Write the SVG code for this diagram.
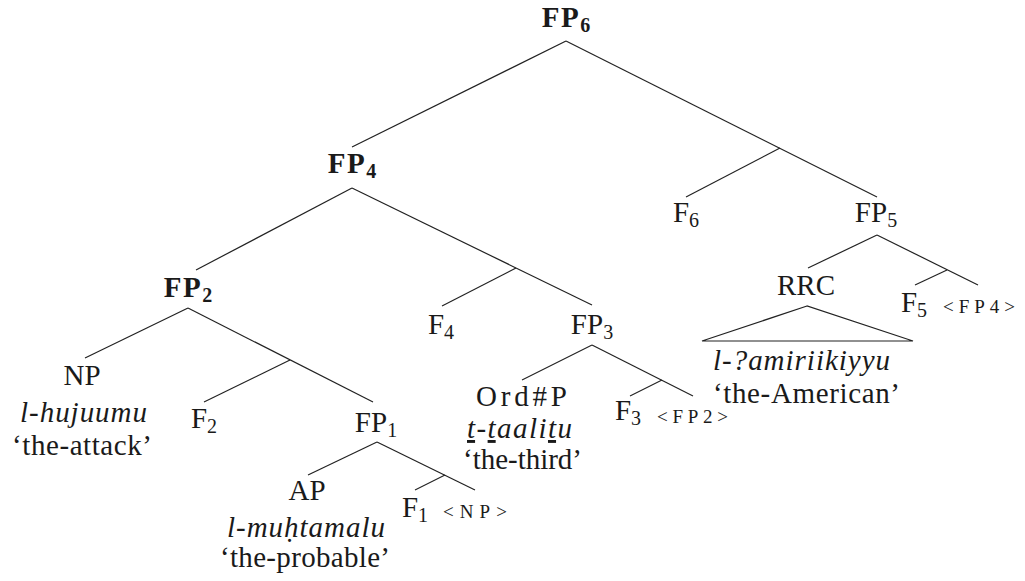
<svg xmlns="http://www.w3.org/2000/svg" width="1025" height="581" viewBox="0 0 1025 581">
<rect width="1025" height="581" fill="#fff"/>
<g id="connectors" stroke="#222" stroke-width="1.2" fill="none">
<line x1="566" y1="41" x2="352" y2="147"/>
<line x1="566" y1="41" x2="877" y2="197"/>
<line x1="780" y1="148" x2="686" y2="197"/>
<line x1="877" y1="235" x2="808" y2="268"/>
<line x1="877" y1="235" x2="978" y2="285"/>
<line x1="947" y1="270" x2="915" y2="285"/>
<polygon points="807,306 702,341 913,341"/>
<line x1="352" y1="188" x2="196" y2="270"/>
<line x1="352" y1="188" x2="592" y2="305"/>
<line x1="516" y1="268" x2="442" y2="306"/>
<line x1="592" y1="345" x2="522" y2="380"/>
<line x1="592" y1="345" x2="693" y2="396"/>
<line x1="662" y1="380" x2="630" y2="396"/>
<line x1="188" y1="308" x2="85" y2="358"/>
<line x1="188" y1="308" x2="373" y2="402"/>
<line x1="290" y1="360" x2="204" y2="402"/>
<line x1="377" y1="442" x2="308" y2="475"/>
<line x1="377" y1="442" x2="475" y2="490"/>
<line x1="445" y1="475" x2="415" y2="490"/>
</g>
<g font-family="Liberation Serif" font-size="29" fill="#1a1a1a">
<g id="FP6"><text font-family="Liberation Serif" font-weight="bold" letter-spacing="1.5" text-anchor="middle" x="566" y="27">FP<tspan font-size="20" letter-spacing="0" dy="5">6</tspan></text></g>
<g id="FP4"><text font-family="Liberation Serif" font-weight="bold" letter-spacing="1.5" text-anchor="middle" x="352" y="173">FP<tspan font-size="20" letter-spacing="0" dy="5">4</tspan></text></g>
<g id="F6"><text font-family="Liberation Serif" text-anchor="middle" x="686" y="222">F<tspan font-size="20" dy="5">6</tspan></text></g>
<g id="FP5"><text font-family="Liberation Serif" text-anchor="middle" x="876" y="222">FP<tspan font-size="20" dy="5">5</tspan></text></g>
<g id="RRC">
<text font-family="Liberation Serif" text-anchor="middle" x="806" y="295">RRC</text>
<text font-family="Liberation Serif" font-style="italic" x="713" y="370" textLength="177">l-?amiriikiyyu</text>
<text font-family="Liberation Serif" x="713" y="403" textLength="187">&#x2018;the-American&#x2019;</text>
</g>
<g id="F5"><text font-family="Liberation Serif" text-anchor="middle" x="914" y="312">F<tspan font-size="20" dy="5">5</tspan></text></g>
<g id="trace-FP4"><text font-family="Liberation Serif" font-size="19" x="943" y="313" textLength="72">&lt;FP4&gt;</text></g>
<g id="FP2"><text font-family="Liberation Serif" font-weight="bold" letter-spacing="1.5" text-anchor="middle" x="188" y="297">FP<tspan font-size="20" letter-spacing="0" dy="5">2</tspan></text></g>
<g id="F4"><text font-family="Liberation Serif" text-anchor="middle" x="441" y="334">F<tspan font-size="20" dy="5">4</tspan></text></g>
<g id="FP3"><text font-family="Liberation Serif" text-anchor="middle" x="592" y="334">FP<tspan font-size="20" dy="5">3</tspan></text></g>
<g id="OrdP">
<text font-family="Liberation Serif" x="476" y="406" textLength="91">Ord#P</text>
<text font-family="Liberation Serif" font-style="italic" x="467" y="438" textLength="105"><tspan text-decoration="underline">t</tspan>-<tspan text-decoration="underline">t</tspan>aali<tspan text-decoration="underline">t</tspan>u</text>
<text font-family="Liberation Serif" x="463" y="469" textLength="119">&#x2018;the-third&#x2019;</text>
</g>
<g id="F3"><text font-family="Liberation Serif" text-anchor="middle" x="628" y="420">F<tspan font-size="20" dy="5">3</tspan></text></g>
<g id="trace-FP2"><text font-family="Liberation Serif" font-size="19" x="657" y="423" textLength="71">&lt;FP2&gt;</text></g>
<g id="NP">
<text font-family="Liberation Serif" text-anchor="middle" x="82" y="385">NP</text>
<text font-family="Liberation Serif" font-style="italic" x="20" y="422" textLength="127">l-hujuumu</text>
<text font-family="Liberation Serif" x="12" y="455" textLength="140">&#x2018;the-attack&#x2019;</text>
</g>
<g id="F2"><text font-family="Liberation Serif" text-anchor="middle" x="204" y="428">F<tspan font-size="20" dy="5">2</tspan></text></g>
<g id="FP1"><text font-family="Liberation Serif" text-anchor="middle" x="376" y="432">FP<tspan font-size="20" dy="5">1</tspan></text></g>
<g id="AP">
<text font-family="Liberation Serif" text-anchor="middle" x="307" y="500">AP</text>
<text font-family="Liberation Serif" font-style="italic" x="227" y="537" textLength="158">l-mu&#x1E25;tamalu</text>
<text font-family="Liberation Serif" x="220" y="567" textLength="170">&#x2018;the-probable&#x2019;</text>
</g>
<g id="F1"><text font-family="Liberation Serif" text-anchor="middle" x="415" y="517">F<tspan font-size="20" dy="5">1</tspan></text></g>
<g id="trace-NP"><text font-family="Liberation Serif" font-size="19" x="443" y="518" textLength="64">&lt;NP&gt;</text></g>
</g>
</svg>
